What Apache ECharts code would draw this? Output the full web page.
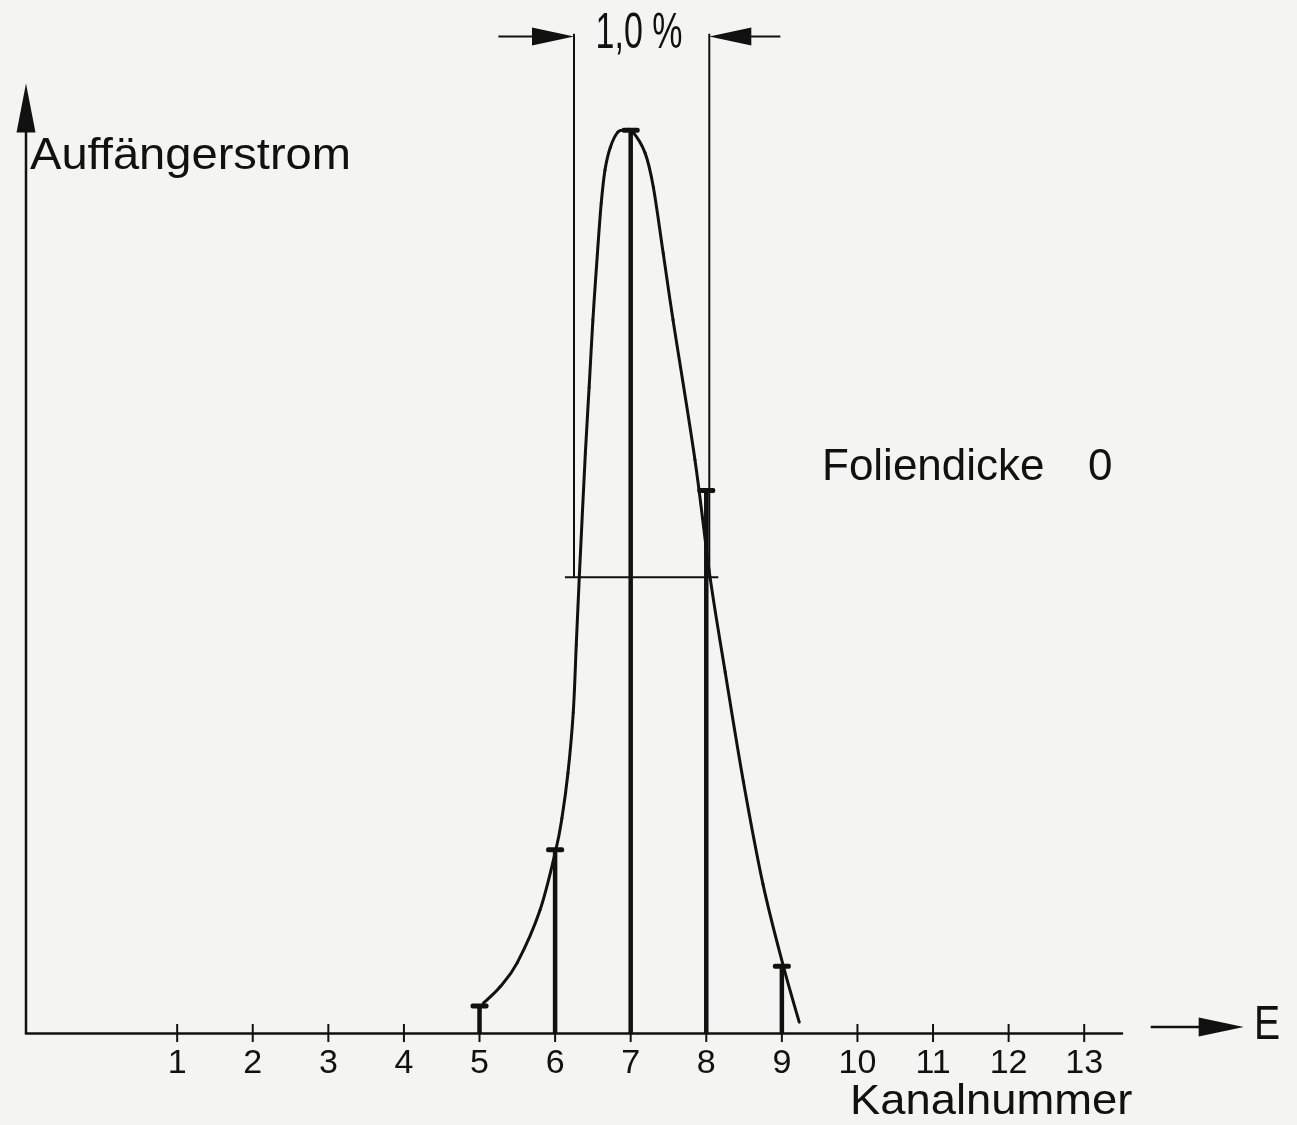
<!DOCTYPE html>
<html><head><meta charset="utf-8">
<script src="https://cdn.jsdelivr.net/npm/echarts@6/dist/echarts.min.js"></script>
<style>html,body{margin:0;padding:0;background:#f4f4f2}#c{width:1297px;height:1125px}</style>
</head><body><div id="c"></div>
<script>
// ---- data ----
const channels = [5, 6, 7, 8, 9];
const current = [3.0, 20.3, 100, 60.1, 7.4];
const curveX = [5.05, 5.27, 5.50, 5.80, 6.01, 6.09, 6.17, 6.24, 6.28, 6.32, 6.40, 6.45, 6.50, 6.56, 6.61, 6.66, 6.73, 6.83, 6.93, 7.02, 7.19, 7.30, 7.43, 7.56, 7.85, 8.05, 8.25, 8.49, 8.75, 9.02, 9.23];
const curveY = [3.3, 5.1, 7.8, 13.6, 20.3, 23.8, 28.8, 35.5, 43.0, 50.5, 64.2, 71.5, 79.0, 86.4, 91.9, 95.6, 98.1, 99.8, 100, 99.9, 97.5, 93.7, 86.4, 79.0, 63.5, 50.5, 40.0, 27.9, 16.5, 7.4, 1.2];
const tickValues = [1, 2, 3, 4, 5, 6, 7, 8, 9, 10, 11, 12, 13];
const halfMax = 50.5;
const halfMaxSpan = [6.13, 8.16];
const fwhmBounds = [6.25, 8.04];
const fwhmTop = 110.7;
const arrowLevel = 110.4;
const arrowTails = [5.25, 8.98];
const yAxisTop = 105.2;
const energyArrowX = [13.88, 15.11];
const energyLevel = 0.66;

const INK = '#111';
const FONT = '"Liberation Sans", Arial, sans-serif';
const chart = echarts.init(document.getElementById('c'));

function arrowHead(tip, dx, dy, len, halfW) {
  const bx = tip[0] - dx * len, by = tip[1] - dy * len;
  const px = -dy, py = dx;
  return [tip, [bx + px * halfW, by + py * halfW], [bx - px * halfW, by - py * halfW]];
}

chart.setOption({
  backgroundColor: '#f4f4f2',
  animation: false,
  grid: { left: 26, right: 175, top: 22, bottom: 92 },
  xAxis: {
    type: 'value', min: -1, max: 13.5, interval: 1,
    axisLine: { show: true, lineStyle: { color: INK, width: 2.5 } },
    axisTick: { show: false },
    splitLine: { show: false },
    axisLabel: {
      color: INK, fontSize: 34, margin: 14, fontFamily: FONT,
      formatter: v => (Number.isInteger(v) && tickValues.indexOf(v) >= 0) ? String(v) : ''
    }
  },
  yAxis: {
    type: 'value', min: 0, max: 112,
    axisLine: { show: false }, axisTick: { show: false },
    axisLabel: { show: false }, splitLine: { show: false }
  },
  series: [
    {
      type: 'custom', name: 'curve',
      data: curveX.map((x, i) => [x, curveY[i]]),
      renderItem: (params, api) => {
        const i = params.dataIndexInside, n = params.dataInsideLength;
        if (i >= n - 1) return null;
        const P = k => { k = Math.max(0, Math.min(n - 1, k)); return api.coord([api.value(0, k), api.value(1, k)]); };
        const p0 = P(i - 1), p1 = P(i), p2 = P(i + 1), p3 = P(i + 2);
        return {
          type: 'bezierCurve',
          shape: {
            x1: p1[0], y1: p1[1], x2: p2[0], y2: p2[1],
            cpx1: p1[0] + (p2[0] - p0[0]) / 6, cpy1: p1[1] + (p2[1] - p0[1]) / 6,
            cpx2: p2[0] - (p3[0] - p1[0]) / 6, cpy2: p2[1] - (p3[1] - p1[1]) / 6
          },
          style: { stroke: INK, lineWidth: 3, fill: null, lineCap: 'round' }
        };
      }, z: 3
    },
    {
      type: 'custom', name: 'bars',
      data: channels.map((c, i) => [c, current[i]]),
      renderItem: (params, api) => {
        const x = api.value(0), y = api.value(1);
        const p0 = api.coord([x, 0]), p1 = api.coord([x, y]);
        return { type: 'group', children: [
          { type: 'line', shape: { x1: p0[0], y1: p0[1], x2: p1[0], y2: p1[1] }, style: { stroke: INK, lineWidth: 4.5 } },
          { type: 'rect', shape: { x: p1[0] - 9, y: p1[1] - 2.5, width: 18, height: 5, r: 2 }, style: { fill: INK } }
        ] };
      }, z: 4
    },
    {
      type: 'custom', name: 'ticks',
      data: tickValues.map(v => [v, 0]),
      renderItem: (params, api) => {
        const p = api.coord([api.value(0), 0]);
        return { type: 'line', shape: { x1: p[0], y1: p[1] - 9, x2: p[0], y2: p[1] + 9 }, style: { stroke: INK, lineWidth: 2 } };
      }, z: 2
    },
    {
      type: 'custom', name: 'annotations', clip: false,
      data: [[0, 0]],
      renderItem: (params, api) => {
        const kids = [];
        const h0 = api.coord([halfMaxSpan[0], halfMax]), h1 = api.coord([halfMaxSpan[1], halfMax]);
        kids.push({ type: 'line', shape: { x1: h0[0], y1: h0[1], x2: h1[0], y2: h1[1] }, style: { stroke: INK, lineWidth: 2 } });
        fwhmBounds.forEach((b, i) => {
          const t = api.coord([b, fwhmTop]), bt = api.coord([b, halfMax]);
          kids.push({ type: 'line', shape: { x1: t[0], y1: t[1], x2: bt[0], y2: bt[1] }, style: { stroke: INK, lineWidth: 2 } });
          const tip = api.coord([b, arrowLevel]), tail = api.coord([arrowTails[i], arrowLevel]);
          const dir = tip[0] > tail[0] ? 1 : -1;
          kids.push({ type: 'line', shape: { x1: tail[0], y1: tail[1], x2: tip[0] - dir * 30, y2: tip[1] }, style: { stroke: INK, lineWidth: 2 } });
          kids.push({ type: 'polygon', shape: { points: arrowHead(tip, dir, 0, 42, 9) }, style: { fill: INK } });
        });
        const y0 = api.coord([-1, 0]), y1 = api.coord([-1, yAxisTop]);
        kids.push({ type: 'line', shape: { x1: y0[0], y1: y0[1] + 1, x2: y1[0], y2: y1[1] + 20 }, style: { stroke: INK, lineWidth: 2.5 } });
        kids.push({ type: 'polygon', shape: { points: arrowHead(y1, 0, -1, 49, 9.5) }, style: { fill: INK } });
        const e0 = api.coord([energyArrowX[0], energyLevel]), e1 = api.coord([energyArrowX[1], energyLevel]);
        kids.push({ type: 'line', shape: { x1: e0[0], y1: e0[1], x2: e1[0] - 30, y2: e1[1] }, style: { stroke: INK, lineWidth: 2.5 } });
        kids.push({ type: 'polygon', shape: { points: arrowHead(e1, 1, 0, 45, 9.5) }, style: { fill: INK } });
        return { type: 'group', children: kids };
      }, z: 5
    }
  ],
  graphic: [
    { type: 'text', x: 30, y: 157, scaleX: 1.07, style: { text: 'Auffängerstrom', font: '44px ' + FONT, fill: INK, textAlign: 'left', textVerticalAlign: 'middle' } },
    { type: 'text', x: 822, y: 468, style: { text: 'Foliendicke', font: '44px ' + FONT, fill: INK, textAlign: 'left', textVerticalAlign: 'middle' } },
    { type: 'text', x: 1088, y: 468, style: { text: '0', font: '44px ' + FONT, fill: INK, textAlign: 'left', textVerticalAlign: 'middle' } },
    { type: 'text', x: 850, y: 1102, scaleX: 1.08, style: { text: 'Kanalnummer', font: '42px ' + FONT, fill: INK, textAlign: 'left', textVerticalAlign: 'middle' } },
    { type: 'text', x: 1254, y: 1025, scaleX: 0.8, style: { text: 'E', font: '49px ' + FONT, fill: INK, textAlign: 'left', textVerticalAlign: 'middle' } },
    { type: 'text', x: 639, y: 34, scaleX: 0.68, style: { text: '1,0 %', font: '50px ' + FONT, fill: INK, textAlign: 'center', textVerticalAlign: 'middle' } }
  ]
});
</script></body></html>
